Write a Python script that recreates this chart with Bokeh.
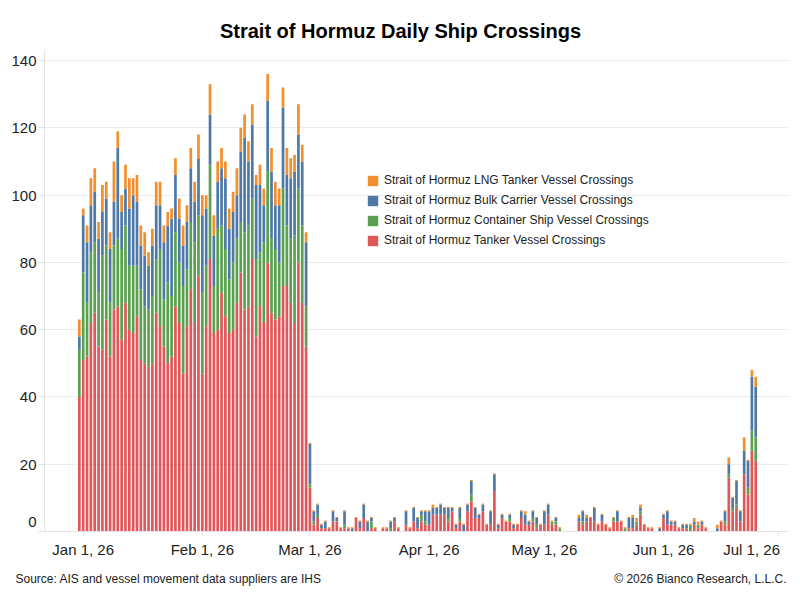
import pandas as pd

from bokeh.plotting import figure
from bokeh.layouts import column
from bokeh.models import (ColumnDataSource, Range1d, FixedTicker, DatetimeTickFormatter,
                          Legend, LegendItem, Label)
from bokeh.embed import file_html
from bokeh.resources import INLINE

# one bar per day, Dec 31 2025 .. Jun 25 2026
dates = pd.date_range("2025-12-31", "2026-06-25", freq="D")

tanker = (
    [40]
    + [51, 52, 62, 65, 55, 54, 63, 52, 66, 67, 57, 68, 60, 59, 64, 51, 50, 49, 50, 65,
       61, 55, 50, 52, 67, 62, 47, 61, 72, 62, 76]                                   # Jan
    + [47, 61, 81, 59, 60, 71, 64, 59, 60, 68, 77, 66, 67, 81, 58, 67, 62, 80, 65, 63,
       64, 73, 73, 68, 62, 80, 68, 55]                                               # Feb
    + [13, 2, 4, 1, 1, 1, 3, 3, 1, 1, 1, 0, 4, 1, 4, 0, 1, 1, 0, 1,
       1, 0, 3, 1, 0, 2, 1, 3, 1, 3, 2]                                              # Mar
    + [2, 5, 5, 5, 5, 3, 6, 1, 3, 0, 6, 9, 4, 4, 6, 2, 2, 12, 1, 4,
       3, 3, 1, 2, 4, 2, 2, 3, 1, 2]                                                 # Apr
    + [2, 5, 2, 2, 0, 0, 0, 0, 0, 3, 2, 3, 4, 3, 2, 3, 2, 1, 3, 3,
       3, 0, 1, 1, 2, 5, 2, 1, 1, 0, 0]                                              # May
    + [4, 2, 2, 2, 1, 1, 1, 0, 2, 1, 2, 1, 0, 0, 0, 3, 2, 16, 6, 7,
       3, 17, 11, 24, 21]                                                            # Jun
)

container = (
    [14]
    + [26, 16, 21, 21, 16, 28, 22, 16, 19, 20, 27, 23, 19, 20, 15, 21, 17, 17, 20, 16,
       23, 14, 24, 18, 22, 18, 26, 17, 20, 24, 18]
    + [24, 18, 28, 14, 30, 20, 20, 16, 20, 19, 15, 23, 24, 18, 23, 16, 24, 27, 22, 21,
       16, 29, 18, 19, 26, 22, 23, 12]
    + [1, 1, 1, 0, 0, 0, 0, 0, 0, 1, 0, 0, 0, 0, 0, 0, 2, 0, 0, 0,
       0, 1, 0, 0, 0, 0, 0, 0, 0, 2, 1]
    + [0, 0, 0, 0, 0, 1, 0, 0, 1, 0, 0, 2, 0, 0, 0, 0, 0, 0, 0, 0,
       0, 1, 0, 0, 0, 0, 0, 1, 1, 0]
    + [0, 0, 1, 1, 1, 0, 0, 0, 0, 0, 1, 0, 0, 0, 0, 0, 0, 0, 1, 0,
       0, 1, 0, 0, 1, 1, 0, 0, 0, 0, 0]
    + [0, 0, 0, 0, 0, 0, 0, 2, 0, 1, 0, 0, 0, 0, 0, 0, 1, 1, 1, 1,
       0, 0, 2, 6, 7]
)

bulk = (
    [4]
    + [17, 18, 14, 15, 16, 13, 14, 16, 13, 27, 11, 11, 17, 21, 19, 13, 15, 13, 15, 16,
       13, 17, 17, 23, 17, 13, 12, 14, 16, 12, 17]
    + [23, 17, 15, 15, 14, 17, 21, 15, 15, 13, 21, 28, 19, 22, 22, 20, 11, 21, 20, 13,
       17, 24, 15, 18, 19, 16, 19, 19]
    + [12, 3, 3, 1, 2, 0, 3, 1, 0, 4, 0, 1, 0, 2, 4, 3, 1, 0, 0, 0,
       0, 2, 1, 0, 0, 4, 0, 4, 3, 1, 3]
    + [4, 2, 2, 3, 2, 3, 1, 1, 3, 2, 2, 4, 3, 1, 2, 0, 4, 5, 1, 1,
       0, 1, 1, 0, 2, 3, 1, 2, 2, 0]
    + [4, 3, 0, 1, 0, 0, 0, 0, 0, 1, 3, 1, 0, 4, 0, 2, 0, 0, 0, 3,
       0, 0, 3, 3, 0, 1, 0, 0, 0, 0, 1]
    + [1, 4, 1, 1, 0, 1, 1, 0, 1, 0, 1, 0, 0, 0, 1, 0, 3, 3, 3, 7,
       3, 7, 8, 16, 15]
)

lng = (
    [5]
    + [2, 5, 8, 7, 5, 8, 5, 5, 12, 5, 5, 7, 9, 5, 8, 6, 7, 4, 5, 7,
       7, 5, 4, 3, 5, 6, 6, 5, 6, 6, 7]
    + [6, 4, 9, 6, 6, 6, 5, 6, 6, 8, 7, 7, 6, 6, 3, 6, 5, 8, 7, 7,
       5, 6, 8, 6, 5, 9, 5, 3]
    + [0.3, 0.3, 0.3, 0.3, 0.3, 0.3, 0.3, 0.3, 0.3, 0.3, 0.3, 0.3, 0.3, 0.3, 0.3, 0.3,
       0.3, 0.3, 0, 0.3, 0.3, 0.3, 0.3, 0.3, 0, 0.3, 0.3, 0.3, 0.3, 0.3, 0.3]
    + [0.3, 1, 0.3, 0.3, 0.3, 0.3, 0.3, 0.3, 0.3, 0.3, 0.3, 0.3, 0.3, 0.3, 0.3, 0.3,
       0.3, 0.3, 0.3, 0.3, 0.3, 0.3, 0.3, 0.3, 0.3, 1, 0.3, 0.3, 0.3, 0.3]
    + [0.3, 0.3, 0.3, 0.3, 0.3, 0, 0, 0, 0, 1, 0.3, 1, 0.3, 0.3, 0.3, 0.3,
       0.3, 0.3, 0.3, 0.3, 0.3, 0.3, 0.3, 1, 1, 1, 0.3, 0.3, 0.3, 0, 0.3]
    + [0.3, 0.3, 0.3, 0.3, 0.3, 0.3, 0.3, 0.3, 1, 1, 0.3, 0.3, 0, 0, 1, 0.3,
       0.3, 2, 0.3, 0.3, 0.3, 4, 0.3, 2, 3]
)

for col in (tanker, container, bulk, lng):
    assert len(col) == len(dates), len(col)

series = ["tanker", "container", "bulk", "lng"]
labels = ["Strait of Hormuz Tanker Vessel Crossings",
          "Strait of Hormuz Container Ship Vessel Crossings",
          "Strait of Hormuz Bulk Carrier Vessel Crossings",
          "Strait of Hormuz LNG Tanker Vessel Crossings"]
colors = ["#E15759", "#59A14F", "#4E79A7", "#F28E2B"]

month_ticks = ["2026-01-01", "2026-02-01", "2026-03-01", "2026-04-01",
               "2026-05-01", "2026-06-01", "2026-07-01"]
y_ticks = [0, 20, 40, 60, 80, 100, 120, 140]

title = "Strait of Hormuz Daily Ship Crossings"
source_note = "Source: AIS and vessel movement data suppliers are IHS"
copyright_note = "\u00a9 2026 Bianco Research, L.L.C."

FONT = "Liberation Sans"
TEXT = "#222222"
AXIS = "#e3e3e3"
DAY = 86400000.0
W = 792


def ms(s):
    return pd.Timestamp(s).value / 1e6


def text_strip(height):
    # plain figure whose frame is the whole canvas, used for the title / footer text
    s = figure(width=W, height=height, output_backend="svg", toolbar_location=None,
               x_range=Range1d(0, W), y_range=Range1d(0, height),
               x_axis_location=None, y_axis_location=None, min_border=0)
    s.grid.visible = False
    s.outline_line_color = None
    s.frame_align = False
    return s


source = ColumnDataSource(data=dict(date=dates, tanker=tanker, container=container,
                                    bulk=bulk, lng=lng))

p = figure(width=W, height=510, x_axis_type="datetime",
           output_backend="svg", toolbar_location=None,
           x_range=Range1d(ms("2025-12-22") - 0.07 * DAY, ms("2026-07-03") + 0.53 * DAY),
           y_range=Range1d(0, 143),
           min_border_left=44, min_border_right=4,
           min_border_top=0, min_border_bottom=28)
p.frame_align = False

bars = p.vbar_stack(series, x="date", width=0.7 * DAY, color=colors,
                    line_color=None, source=source)

# axes
tick_ms = [ms(t) for t in month_ticks]
p.xaxis.ticker = FixedTicker(ticks=tick_ms)
fmt = "%b %-d, %y"
p.xaxis.formatter = DatetimeTickFormatter(milliseconds=fmt, seconds=fmt, minsec=fmt,
                                          minutes=fmt, hourmin=fmt, hours=fmt, days=fmt,
                                          months=fmt, years=fmt)
# last label is pulled left so that it stays inside the canvas
p.xaxis.major_label_overrides = {tick_ms[-1]: "Jul 1, 26" + "\u00a0" * 3}
p.yaxis.ticker = FixedTicker(ticks=y_ticks)
# "0" sits a little above its tick
p.yaxis.major_label_overrides = {0: "0\n"}

for ax in (p.xaxis, p.yaxis):
    ax.axis_line_color = AXIS
    ax.major_tick_line_color = AXIS
    ax.minor_tick_line_color = None
    ax.major_tick_in = 0
    ax.major_label_text_font = FONT
    ax.major_label_text_font_size = "15px"
    ax.major_label_text_color = TEXT
p.yaxis.major_tick_out = 6
p.yaxis.major_label_standoff = 2
p.xaxis.major_tick_out = 4
p.xaxis.major_label_standoff = 5

p.xgrid.grid_line_color = None
p.ygrid.grid_line_color = "#ececec"
p.ygrid.ticker = FixedTicker(ticks=y_ticks)
p.outline_line_color = None

# legend, top entry = top of stack
items = [LegendItem(label=labels[i], renderers=[bars[i]]) for i in (3, 2, 1, 0)]
legend = Legend(items=items, location=(322, 281), orientation="vertical",
                border_line_color=None, background_fill_alpha=0,
                padding=0, margin=0, spacing=0,
                glyph_width=13, glyph_height=13, label_height=20, label_standoff=5,
                label_text_font=FONT, label_text_font_size="12px",
                label_text_color=TEXT, label_text_baseline="middle")
p.add_layout(legend, "center")

head = text_strip(50)
head.add_layout(Label(x=400, y=20, text=title, text_align="center",
                      text_baseline="middle", text_font=FONT, text_font_size="20px",
                      text_font_style="bold", text_color="#000000"))

foot = text_strip(40)
foot.add_layout(Label(x=15, y=22, text=source_note,
                      text_align="left", text_baseline="middle", text_font=FONT,
                      text_font_size="12px", text_color=TEXT))
foot.add_layout(Label(x=786, y=22, text=copyright_note,
                      text_align="right", text_baseline="middle", text_font=FONT,
                      text_font_size="12px", text_color=TEXT))

page = column(head, p, foot, spacing=0)

open("out.html", "w").write(file_html(page, INLINE))
